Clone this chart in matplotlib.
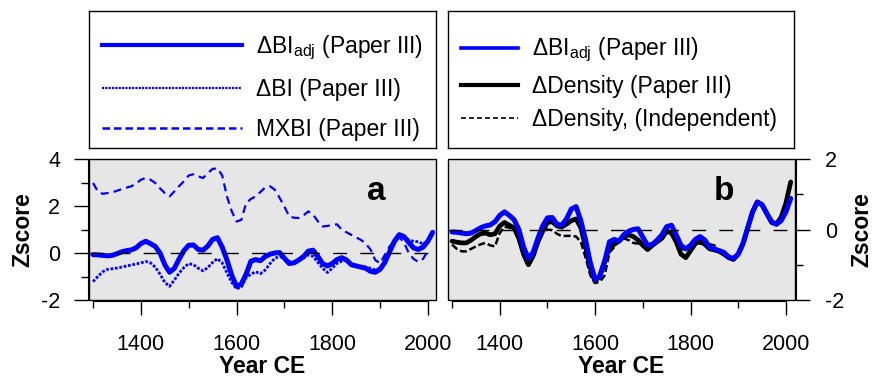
import numpy as np
import matplotlib.pyplot as plt
from matplotlib.lines import Line2D
from matplotlib.patches import Rectangle

plt.rcParams['font.family'] = 'Liberation Sans'
plt.rcParams['mathtext.fontset'] = 'custom'
plt.rcParams['mathtext.rm'] = 'Liberation Sans'
plt.rcParams['mathtext.it'] = 'Liberation Sans:italic'
plt.rcParams['mathtext.bf'] = 'Liberation Sans:bold'
plt.rcParams['axes.unicode_minus'] = False

# data (10-year steps, 1300-2010)
years = list(range(1300, 2011, 10))

bi_adj = [-0.07, -0.08, -0.10, -0.12, -0.10, -0.03, 0.05, 0.10, 0.13, 0.22,
          0.40, 0.50, 0.40, 0.28, 0.00, -0.50, -0.82, -0.65, -0.25, 0.10,
          0.33, 0.34, 0.15, 0.12, 0.30, 0.58, 0.65, 0.25, -0.30, -0.95,
          -1.42, -1.32, -0.90, -0.35, -0.28, -0.33, -0.15, -0.05, 0.00, 0.02,
          -0.22, -0.45, -0.42, -0.30, -0.15, 0.08, 0.12, -0.15, -0.45, -0.55,
          -0.45, -0.28, -0.20, -0.30, -0.50, -0.55, -0.60, -0.65, -0.78, -0.82,
          -0.70, -0.40, 0.05, 0.50, 0.78, 0.70, 0.45, 0.22, 0.15, 0.25,
          0.50, 0.88]

bi = [-1.22, -1.00, -0.80, -0.70, -0.67, -0.64, -0.60, -0.55, -0.51, -0.47,
      -0.42, -0.36, -0.42, -0.60, -0.90, -1.25, -1.42, -1.15, -0.85, -0.62,
      -0.45, -0.50, -0.65, -0.76, -0.62, -0.40, -0.24, -0.42, -0.85, -1.25,
      -1.52, -1.45, -1.05, -0.90, -0.80, -0.88, -0.72, -0.45, -0.22, -0.15,
      -0.22, -0.35, -0.44, -0.35, -0.22, -0.08, -0.15, -0.40, -0.65, -0.83,
      -0.65, -0.44, -0.35, -0.30, -0.45, -0.58, -0.58, -0.60, -0.65, -0.72,
      -0.65, -0.35, 0.00, 0.40, 0.70, 0.68, 0.56, 0.50, 0.48, 0.38,
      0.50, 0.87]

mxbi = [2.98, 2.62, 2.52, 2.55, 2.58, 2.65, 2.72, 2.78, 2.84, 2.95,
        3.12, 3.19, 3.12, 2.98, 2.75, 2.55, 2.41, 2.62, 2.85, 3.05,
        3.30, 3.35, 3.26, 3.19, 3.40, 3.58, 3.60, 3.30, 2.40, 1.77,
        1.34, 1.41, 2.12, 2.30, 2.41, 2.60, 2.79, 2.84, 2.69, 2.35,
        1.98, 1.56, 1.50, 1.49, 1.60, 1.77, 1.63, 1.35, 1.13, 1.15,
        1.20, 1.22, 0.99, 0.88, 0.77, 0.66, 0.56, 0.40, 0.15, -0.30,
        -0.44, -0.08, 0.28, 0.50, 0.68, 0.45, 0.00, -0.25, -0.38, -0.25,
        0.10, np.nan]

density = [-0.33, -0.36, -0.38, -0.38, -0.30, -0.20, -0.12, -0.10, -0.15, -0.12,
           0.10, 0.20, 0.12, 0.05, -0.25, -0.70, -1.00, -0.75, -0.35, -0.05,
           0.20, 0.22, 0.10, 0.07, 0.15, 0.25, 0.30, 0.05, -0.50, -1.10,
           -1.48, -1.30, -0.90, -0.50, -0.42, -0.33, -0.20, -0.15, -0.20, -0.30,
           -0.45, -0.57, -0.45, -0.35, -0.25, -0.05, -0.10, -0.35, -0.70, -0.80,
           -0.60, -0.40, -0.33, -0.42, -0.55, -0.58, -0.62, -0.70, -0.80, -0.85,
           -0.70, -0.40, 0.05, 0.50, 0.78, 0.70, 0.45, 0.20, 0.15, 0.35,
           0.75, 1.35]

density_ind = [-0.43, -0.55, -0.62, -0.62, -0.55, -0.48, -0.42, -0.38, -0.45, -0.48,
               -0.10, 0.08, 0.05, 0.00, -0.30, -0.75, -1.05, -0.80, -0.40, -0.10,
               0.00, -0.02, -0.12, -0.19, -0.18, -0.18, -0.20, -0.35, -0.80, -1.30,
               -1.52, -1.48, -1.30, -0.65, -0.50, -0.30, -0.25, -0.30, -0.38, -0.40,
               -0.45, -0.52, -0.45, -0.30, -0.15, 0.05, -0.05, -0.35, -0.55, -0.57,
               -0.50, -0.43, -0.40, -0.42, -0.42, -0.45, -0.60, -0.70, -0.80, -0.85,
               -0.70, -0.40, 0.05, 0.50, 0.78, 0.70, 0.45, 0.20, 0.15, 0.35,
               0.75, 1.30]

W, H = 874, 377


def box(l, t, r, b):
    return [l / W, 1 - b / H, (r - l) / W, (b - t) / H]


fig = plt.figure(figsize=(W / 100, H / 100), dpi=100)
ax_a = fig.add_axes(box(89, 159, 436, 300))
ax_b = fig.add_axes(box(448, 159, 795, 300))

blue = '#0000ff'


def style(ax, side, ylo, yhi, xhi, ypad):
    ax.set_facecolor('#e6e6e6')
    for s in ax.spines.values():
        s.set_visible(False)
    ax.add_patch(Rectangle((0, 0), 1, 1, transform=ax.transAxes, fill=False,
                           lw=1, ec='black', zorder=6, clip_on=False))
    ax.spines['bottom'].set_visible(True)
    ax.spines['bottom'].set_position(('outward', 0.5))
    ax.spines['bottom'].set_bounds(1300, 2000)
    ax.spines[side].set_visible(True)
    ax.spines[side].set_position(('outward', 1))
    ax.spines[side].set_bounds(ylo, yhi)
    if side == 'right':
        ax.yaxis.tick_right()
    ax.set_xlim(1291.5, xhi)
    ax.set_ylim(ylo, yhi)
    # labelled ticks long, unlabelled ticks short
    ax.set_xticks([1400, 1600, 1800, 2000])
    ax.set_xticks([1300, 1500, 1700, 1900], minor=True)
    ax.set_yticks(list(range(ylo, yhi + 1, 2)))
    ax.set_yticks(list(range(ylo + 1, yhi, 2)), minor=True)
    ax.tick_params(axis='both', which='major', length=9.8, width=1, labelsize=15.5)
    ax.tick_params(axis='both', which='minor', length=5.3, width=1)
    ax.tick_params(axis='x', which='major', pad=14.4)
    ax.tick_params(axis='y', which='major', pad=ypad)
    ax.axhline(0, color='black', lw=1, ls=(0, (10, 9.5)), zorder=5)


style(ax_a, 'left', -2, 4, 2017, 10)
style(ax_b, 'right', -2, 2, 2019, 10.8)

# Chart a
ax_a.plot(years, mxbi, color=blue, lw=1.6, ls=(0, (3.6, 2.3)))
ax_a.plot(years, bi, color=blue, lw=2, ls=(0, (1, 0.6)))
ax_a.plot(years, bi_adj, color=blue, lw=3.6, solid_capstyle='round')
ax_a.text(0.827, 0.709, 'a', transform=ax_a.transAxes, ha='center',
          va='baseline', fontsize=24, fontweight='bold')

# Chart b
ax_b.plot(years, density_ind, color='black', lw=1.8, ls=(0, (2.8, 1.2)))
ax_b.plot(years, density, color='black', lw=3.4, solid_capstyle='round')
ax_b.plot(years, bi_adj, color=blue, lw=3.6, solid_capstyle='round')
ax_b.text(0.795, 0.709, 'b', transform=ax_b.transAxes, ha='center',
          va='baseline', fontsize=24, fontweight='bold')

# axis titles
lab = dict(fontsize=16.5, fontweight='bold')
fig.text(23 / W, 1 - 229.5 / H, 'Zscore', rotation=90, ha='center', va='center', **lab)
fig.text(862 / W, 1 - 229.5 / H, 'Zscore', rotation=90, ha='center', va='center', **lab)
fig.text(262.5 / W, 1 - 373 / H, 'Year CE', ha='center', va='baseline', **lab)
fig.text(621.5 / W, 1 - 373 / H, 'Year CE', ha='center', va='baseline', **lab)

# legend boxes
adj = r'$\Delta$BI$_{\mathrm{adj}}$ (Paper III)'
leg_a = fig.add_axes(box(88.7, 11, 436, 148))
leg_b = fig.add_axes(box(448, 11, 794, 148))
for la in (leg_a, leg_b):
    la.set_xticks([])
    la.set_yticks([])
    for s in la.spines.values():
        s.set_linewidth(1)

h_a = [Line2D([], [], color=blue, lw=3),
       Line2D([], [], color=blue, lw=1.6, ls=(0, (1, 0.5))),
       Line2D([], [], color=blue, lw=1.8, ls=(0, (3, 1.6)))]
l_a = [adj, 'ΔBI (Paper III)', 'MXBI (Paper III)']
leg_a.legend(h_a, l_a, loc='center left', bbox_to_anchor=(0.038, 0.445),
             frameon=False, fontsize=16.5, handlelength=6.13, handletextpad=0.61,
             labelspacing=0.72, borderpad=0, borderaxespad=0)

h_b = [Line2D([], [], color=blue, lw=2.6),
       Line2D([], [], color='black', lw=3),
       Line2D([], [], color='black', lw=1.2, ls=(0, (3, 1.8)))]
l_b = [adj, 'ΔDensity (Paper III)', 'ΔDensity, (Independent)']
leg_b.legend(h_b, l_b, loc='center left', bbox_to_anchor=(0.0376, 0.47),
             frameon=False, fontsize=16.5, handlelength=2.49, handletextpad=0.61,
             labelspacing=0.45, borderpad=0, borderaxespad=0)

fig.savefig('out.png', dpi=100)
